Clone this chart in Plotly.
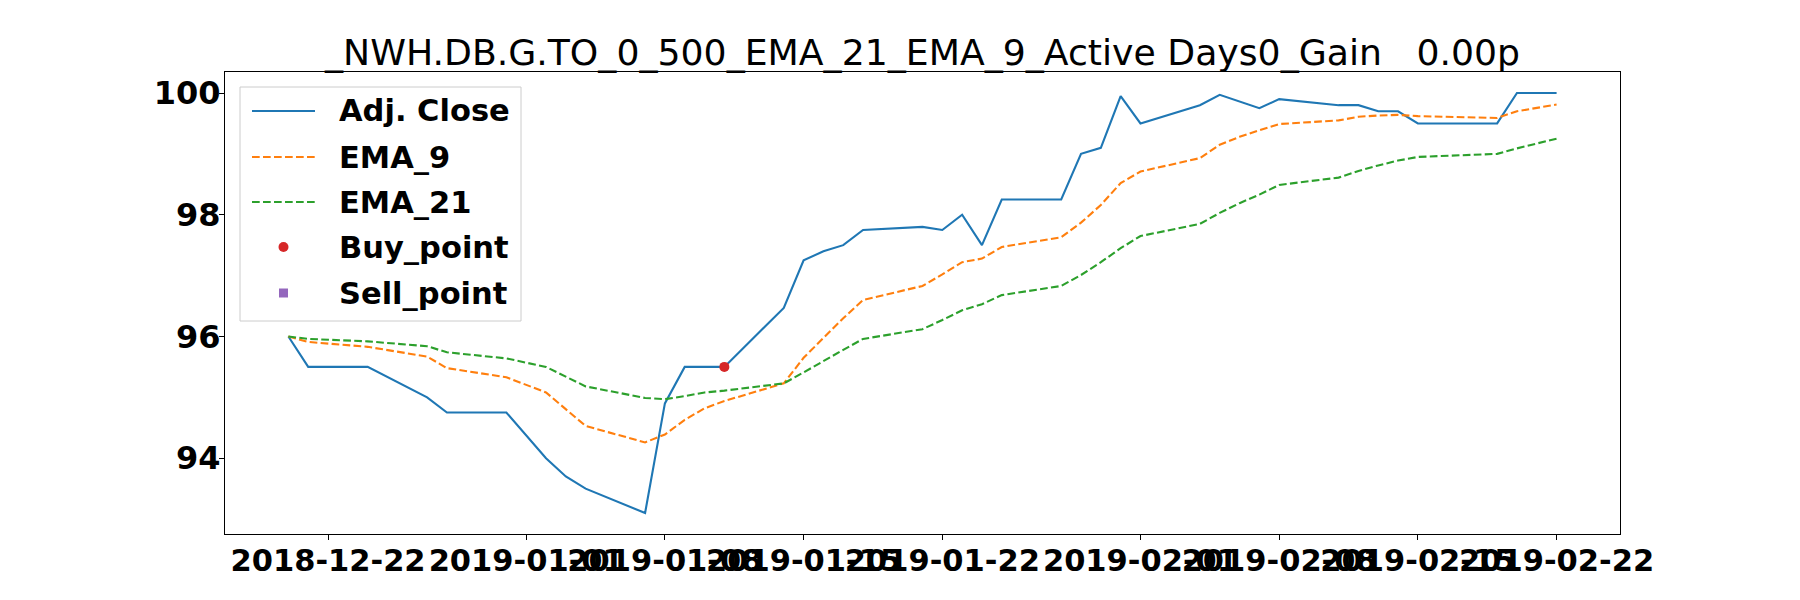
import plotly.graph_objects as go

# trading days shown on the chart
dates = [
    "2018-12-20", "2018-12-21", "2018-12-24", "2018-12-27", "2018-12-28", "2018-12-31",
    "2019-01-02", "2019-01-03", "2019-01-04", "2019-01-07", "2019-01-08", "2019-01-09",
    "2019-01-10", "2019-01-11", "2019-01-14", "2019-01-15", "2019-01-16", "2019-01-17",
    "2019-01-18", "2019-01-21", "2019-01-22", "2019-01-23", "2019-01-24", "2019-01-25",
    "2019-01-28", "2019-01-29", "2019-01-30", "2019-01-31", "2019-02-01", "2019-02-04",
    "2019-02-05", "2019-02-06", "2019-02-07", "2019-02-08", "2019-02-11", "2019-02-12",
    "2019-02-13", "2019-02-14", "2019-02-15", "2019-02-19", "2019-02-20", "2019-02-21",
    "2019-02-22",
]

adj_close = [
    96.0, 95.5, 95.5, 95.0, 94.75, 94.75,
    94.0, 93.7, 93.5, 93.1, 94.9, 95.5,
    95.5, 95.5, 96.47, 97.25, 97.4, 97.5,
    97.75, 97.8, 97.75, 98.0, 97.5, 98.25,
    98.25, 99.0, 99.1, 99.95, 99.5, 99.8,
    99.97, 99.86, 99.75, 99.9, 99.8, 99.8,
    99.7, 99.7, 99.5, 99.5, 100.0, 100.0,
    100.0,
]

ema_9 = [
    96.00, 95.91, 95.83, 95.67, 95.48, 95.33,
    95.08, 94.80, 94.53, 94.26, 94.39, 94.63,
    94.82, 94.94, 95.23, 95.65, 95.98, 96.30,
    96.60, 96.83, 97.02, 97.22, 97.28, 97.47,
    97.63, 97.87, 98.16, 98.52, 98.71, 98.93,
    99.15, 99.28, 99.39, 99.49, 99.55, 99.61,
    99.63, 99.64, 99.62, 99.59, 99.70, 99.75,
    99.81,
]

ema_21 = [
    96.00, 95.96, 95.92, 95.84, 95.74, 95.64,
    95.50, 95.34, 95.18, 94.99, 94.97, 95.02,
    95.08, 95.11, 95.23, 95.41, 95.60, 95.78,
    95.96, 96.12, 96.27, 96.43, 96.53, 96.68,
    96.83, 97.01, 97.22, 97.45, 97.65, 97.85,
    98.03, 98.19, 98.33, 98.49, 98.61, 98.72,
    98.81, 98.89, 98.95, 99.00, 99.09, 99.17,
    99.25,
]

buy_dates = ["2019-01-11"]
buy_prices = [95.5]
sell_dates = []
sell_prices = []

x_ticks = [
    "2018-12-22", "2019-01-01", "2019-01-08", "2019-01-15", "2019-01-22",
    "2019-02-01", "2019-02-08", "2019-02-15", "2019-02-22",
]
y_ticks = [94, 96, 98, 100]

legend_labels = ["Adj. Close", "EMA_9", "EMA_21", "Buy_point", "Sell_point"]

title = "_NWH.DB.G.TO_0_500_EMA_21_EMA_9_Active Days0_Gain\u00a0\u00a0\u00a00.00p"

BLUE, ORANGE, GREEN, RED, PURPLE = "#1f77b4", "#ff7f0e", "#2ca02c", "#d62728", "#9467bd"
DASH = "7.7px,3.3px"
FONT = "DejaVu Sans"

# the page body keeps its default 8px margin, so the figure is 16px smaller
OFF = 8
W, H = 1784, 584
L, R, T, B = 217, 172, 64, 58
PW, PH = W - L - R, H - T - B


def px(x):
    # page pixel -> paper x
    return (x - OFF - L) / PW


def py(y):
    # page pixel -> paper y
    return (H - B - (y - OFF)) / PH


fig = go.Figure()
fig.add_trace(go.Scatter(x=dates, y=adj_close, mode="lines", name="Adj. Close",
                         line=dict(color=BLUE, width=2.1), showlegend=False))
fig.add_trace(go.Scatter(x=dates, y=ema_9, mode="lines", name="EMA_9",
                         line=dict(color=ORANGE, width=2.1, dash=DASH), showlegend=False))
fig.add_trace(go.Scatter(x=dates, y=ema_21, mode="lines", name="EMA_21",
                         line=dict(color=GREEN, width=2.1, dash=DASH), showlegend=False))
fig.add_trace(go.Scatter(x=buy_dates, y=buy_prices, mode="markers", name="Buy_point",
                         marker=dict(color=RED, size=10, symbol="circle"), showlegend=False))
fig.add_trace(go.Scatter(x=sell_dates, y=sell_prices, mode="markers", name="Sell_point",
                         marker=dict(color=PURPLE, size=10, symbol="square"), showlegend=False))

# hand-made legend, matplotlib style
shapes = [dict(type="rect", xref="paper", yref="paper",
               x0=px(240), x1=px(521), y0=py(321), y1=py(87),
               fillcolor="rgba(255,255,255,0.8)", line=dict(color="#cccccc", width=1))]
annotations = []
row_y = [111, 157, 202, 247, 293]
hx0, hx1 = 252, 315
hxc = (hx0 + hx1) / 2
styles = [(BLUE, "solid"), (ORANGE, DASH), (GREEN, DASH)]
for i, (col, dash) in enumerate(styles):
    shapes.append(dict(type="line", xref="paper", yref="paper",
                       x0=px(hx0), x1=px(hx1), y0=py(row_y[i]), y1=py(row_y[i]),
                       line=dict(color=col, width=2.1, dash=dash)))
shapes.append(dict(type="circle", xref="paper", yref="paper", fillcolor=RED,
                   line=dict(width=0), x0=px(hxc - 5), x1=px(hxc + 5),
                   y0=py(row_y[3] + 5), y1=py(row_y[3] - 5)))
shapes.append(dict(type="rect", xref="paper", yref="paper", fillcolor=PURPLE,
                   line=dict(width=0), x0=px(hxc - 4.5), x1=px(hxc + 4.5),
                   y0=py(row_y[4] + 4.5), y1=py(row_y[4] - 4.5)))
for label, yy in zip(legend_labels, row_y):
    annotations.append(dict(text=label, xref="paper", yref="paper", x=px(337), y=py(yy),
                            xanchor="left", yanchor="middle", showarrow=False,
                            font=dict(family=FONT, size=30.5, color="black", weight="bold")))

axis_common = dict(showline=True, mirror=True, linecolor="black", linewidth=1.1,
                   ticks="outside", ticklen=5, tickwidth=1.1, tickcolor="black",
                   showgrid=False, zeroline=False)

fig.update_layout(
    width=W, height=H, autosize=False,
    margin=dict(l=L, r=R, t=T, b=B),
    paper_bgcolor="white", plot_bgcolor="white",
    title=dict(text=title, x=0.5, xref="paper", xanchor="center",
               y=1 - (65 - OFF) / H, yref="container", yanchor="bottom", pad=dict(b=0),
               font=dict(family=FONT, size=36.2, color="black")),
    xaxis=dict(type="date", range=["2018-12-16 19:12", "2019-02-25 04:48"],
               tickvals=x_ticks, ticktext=x_ticks, tickangle=0, ticklabelstandoff=-6,
               tickfont=dict(family=FONT, size=30.5, color="black", weight="bold"),
               **axis_common),
    yaxis=dict(range=[92.755, 100.345], tickvals=y_ticks,
               ticktext=[str(v) for v in y_ticks], ticklabelstandoff=-8,
               tickfont=dict(family=FONT, size=32, color="black", weight="bold"),
               **axis_common),
    shapes=shapes, annotations=annotations,
    showlegend=False,
)

fig.write_html("out.html")
